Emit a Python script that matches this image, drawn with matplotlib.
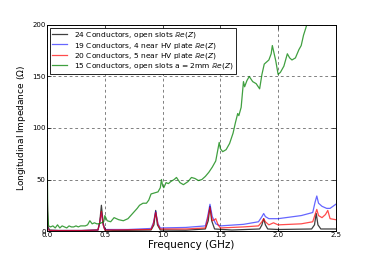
import matplotlib
matplotlib.use("Agg")
import matplotlib.pyplot as plt

# Black: 24 Conductors, open slots
freq_k = [0, 0.005, 0.02, 0.1, 0.3, 0.44, 0.455, 0.47, 0.485, 0.50, 0.6, 0.9, 0.925, 0.94, 0.955, 0.98, 1.2, 1.37,
          1.395, 1.41, 1.425, 1.45, 1.6, 1.84, 1.86, 1.875, 1.89, 1.91, 2.0, 2.29, 2.315, 2.33, 2.345, 2.37, 2.5]
z_k = [50, 5, 1, 0.5, 0.5, 1, 8, 25, 8, 1, 0.5, 1, 6, 20, 6, 1, 0.8, 2,
       10, 24, 10, 2, 1, 2, 6, 12, 6, 2, 1.5, 2, 6, 17, 6, 2, 2]

# Blue: 19 Conductors, 4 near HV plate
freq_b = [0, 0.005, 0.02, 0.3, 0.44, 0.455, 0.47, 0.485, 0.5, 0.7, 0.9, 0.92, 0.94, 0.96, 0.98, 1.2, 1.37, 1.39,
          1.41, 1.43, 1.46, 1.5, 1.7, 1.83, 1.86, 1.875, 1.89, 1.92, 2.0, 2.2, 2.3, 2.32, 2.335, 2.35, 2.38,
          2.42, 2.45, 2.5]
z_b = [45, 2, 0.5, 0.5, 1, 8, 18, 6, 1.5, 1.5, 2.5, 8, 19, 7, 3, 3.5, 5, 14,
       26, 14, 7, 5, 6.5, 9, 14, 17, 14, 12, 12, 15, 18, 28, 34, 27, 24,
       22, 22, 26]

# Red: 20 Conductors, 5 near HV plate
freq_r = [0, 0.005, 0.02, 0.3, 0.44, 0.455, 0.47, 0.485, 0.5, 0.9, 0.92, 0.94, 0.96, 0.98, 1.2, 1.37, 1.39, 1.41,
          1.43, 1.45, 1.46, 1.48, 1.5, 1.7, 1.83, 1.86, 1.875, 1.89, 1.92, 1.96, 2.0, 2.2, 2.3, 2.32, 2.335,
          2.35, 2.38, 2.41, 2.43, 2.45, 2.5]
z_r = [50, 2, 0.5, 0.5, 1, 8, 19, 6, 1, 1.5, 7, 18, 6, 2, 2, 3, 12, 23,
       10, 11, 12, 6, 3, 4, 5, 9, 12, 9, 6, 8, 6, 7, 9, 16, 21,
       15, 13, 16, 20, 12, 11]

# Green: 15 Conductors, open slots a = 2mm
freq_g = [0, 0.005, 0.012, 0.03, 0.05, 0.07, 0.09, 0.11, 0.13, 0.15, 0.17, 0.19, 0.21, 0.23, 0.25, 0.27, 0.29,
          0.31, 0.33, 0.35, 0.37, 0.39, 0.41, 0.43, 0.45, 0.47, 0.49, 0.5, 0.52, 0.55, 0.58, 0.62, 0.66, 0.7,
          0.74, 0.78, 0.8, 0.83, 0.86, 0.88, 0.9, 0.93, 0.96, 0.98, 0.99, 1.0, 1.01, 1.03, 1.05, 1.07, 1.1,
          1.12, 1.15, 1.18, 1.22, 1.25, 1.28, 1.31, 1.34, 1.37, 1.4, 1.43, 1.46, 1.48, 1.49, 1.5, 1.52, 1.55,
          1.58, 1.61, 1.63, 1.65, 1.66, 1.68, 1.7, 1.71, 1.73, 1.75, 1.78, 1.81, 1.84, 1.86, 1.88, 1.9, 1.92,
          1.94, 1.95, 1.96, 1.98, 2.0, 2.02, 2.05, 2.08, 2.1, 2.12, 2.15, 2.18, 2.2, 2.22, 2.24, 2.26, 2.3,
          2.4, 2.5]
z_g = [90, 20, 5, 4, 5, 3, 6, 3, 5, 4, 3, 5, 4, 4, 5, 4, 5,
       5, 5, 6, 10, 7, 8, 7, 7, 8, 9, 15, 10, 9, 13, 11, 10, 12,
       17, 22, 25, 27, 27, 30, 36, 37, 38, 42, 50, 44, 42, 47, 46, 48, 50,
       52, 47, 45, 48, 52, 51, 49, 50, 53, 57, 62, 68, 80, 86, 80, 77, 79,
       85, 95, 105, 114, 112, 120, 145, 140, 146, 150, 145, 143, 138, 152, 162, 164, 166,
       172, 180, 175, 165, 152, 154, 160, 172, 168, 166, 168, 176, 180, 190, 197, 205, 215,
       230, 245]

labels = [r'24 Conductors, open slots $\mathbb{R}e(Z)$',
          r'19 Conductors, 4 near HV plate $\mathbb{R}e(Z)$',
          r'20 Conductors, 5 near HV plate $\mathbb{R}e(Z)$',
          r'15 Conductors, open slots a = 2mm $\mathbb{R}e(Z)$']

plt.rcParams['font.family'] = ['DejaVu Sans']
plt.rcParams['mathtext.fontset'] = 'dejavusans'

fig = plt.figure(figsize=(3.74, 2.57), dpi=100)
ax = fig.add_axes([0.126, 0.101, 0.772, 0.802])

ax.plot(freq_k, z_k, color='k', lw=0.9, alpha=0.75, label=labels[0])
ax.plot(freq_b, z_b, color='b', lw=0.9, alpha=0.6, label=labels[1])
ax.plot(freq_r, z_r, color='r', lw=0.9, alpha=0.7, label=labels[2])
ax.plot(freq_g, z_g, color='g', lw=0.9, alpha=0.75, label=labels[3])

ax.set_xlim(0, 2.5)
ax.set_ylim(0, 200)
ax.set_xticks([0.0, 0.5, 1.0, 1.5, 2.0, 2.5])
ax.set_yticks([0, 50, 100, 150, 200])
ax.tick_params(direction='in', labelsize=5, length=3, width=0.5, top=True, right=True, pad=1)
ax.grid(True, color='0.3', linestyle=(0, (4, 4)), linewidth=0.5)
for s in ax.spines.values():
    s.set_linewidth(0.7)
ax.set_xlabel('Frequency (GHz)', fontsize=7.5, labelpad=1)
ax.set_ylabel(r'Longitudinal Impedance ($\Omega$)', fontsize=6.5, labelpad=3)

leg = ax.legend(loc='upper left', fontsize=5.4, fancybox=False, framealpha=1,
                edgecolor='k', borderaxespad=0.4, handlelength=2.0, labelspacing=0.05,
                borderpad=0.3, handletextpad=0.9)
leg.get_frame().set_linewidth(0.6)

fig.savefig('out.png', dpi=100)
